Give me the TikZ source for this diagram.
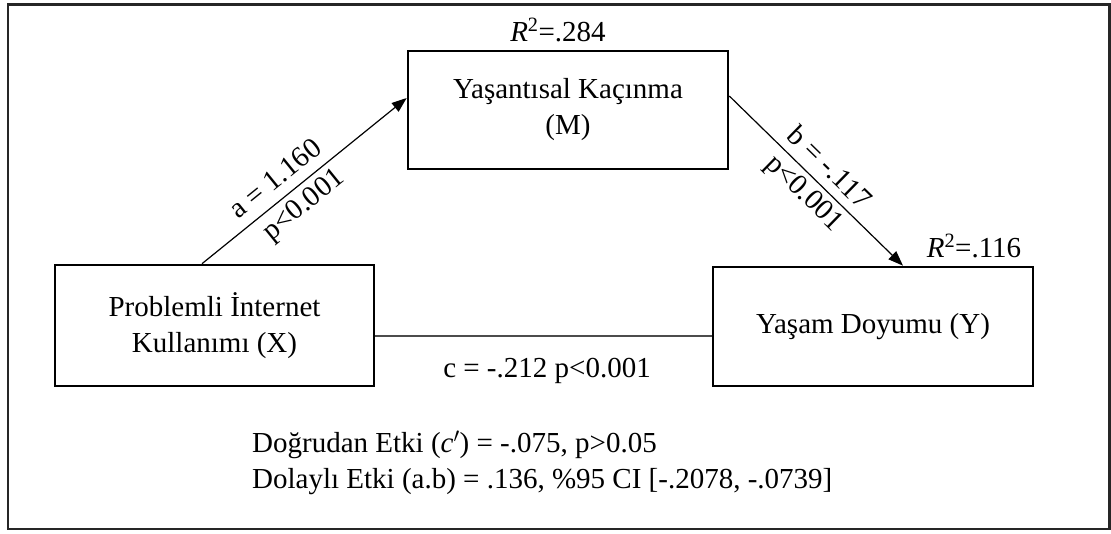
\documentclass[tikz,border=0pt]{standalone}
\usepackage{fontspec}
\setmainfont{Liberation Serif}
\usetikzlibrary{arrows.meta}
\begin{document}
\begin{tikzpicture}[x=1pt,y=-1pt,
  txt/.style={font=\fontsize{29}{36}\selectfont, inner sep=0pt},
  box/.style={draw=black, line width=2.6pt, inner sep=0pt, align=center,
              font=\fontsize{29}{36}\selectfont},
  arr/.style={draw=black, line width=1.2pt, -{Triangle[length=15pt,width=11pt]}},
  cline/.style={draw=black!70, line width=1.8pt},
  frame/.style={draw=black!85, line width=2.6pt},
  lab/.style={font=\fontsize{29}{36}\selectfont, sloped, inner sep=0pt}]
\useasboundingbox (0,0) rectangle (1111,533);
\draw[frame] (8,4.5) rectangle (1109.5,529);

\node[box, minimum width=319pt, minimum height=121pt] (X) at (214.5,325.5)
  {Problemli İnternet\\Kullanımı (X)};
\node[box, minimum width=320pt, minimum height=118pt] (M) at (568,110)
  {Yaşantısal Kaçınma\\(M)};
\node[box, minimum width=320pt, minimum height=119pt] (Y) at (873,326.5)
  {Yaşam Doyumu (Y)};

\draw[arr] ([xshift=-12.5pt]X.north) -- ([yshift=12pt]M.west)
  node[lab, pos=0.42, above=10pt] (la) {a = 1.160}
  node[lab, pos=0.44, below=6pt] (pa) {p<0.001};
\draw[arr] ([yshift=14pt]M.east) -- ([xshift=30pt]Y.north)
  node[lab, pos=0.5, above=9pt] (lb) {b = -.117}
  node[lab, pos=0.5, below=5pt] (pb) {p<0.001};
\draw[cline] ([yshift=-10.5pt]X.east) -- ([yshift=-10.5pt]X.east -| Y.west);

\node[txt, anchor=base] (r1) at (558,41) {\textit{R}\textsuperscript{2}=.284};
\node[txt, anchor=base] (r2) at (974,257) {\textit{R}\textsuperscript{2}=.116};
\node[txt, anchor=base] (c) at (547,377) {c = -.212 p<0.001};
\node[txt, anchor=base west] (d1) at (252,452) {Doğrudan Etki (\textit{c}$'$) = -.075, p>0.05};
\node[txt, anchor=base west] (d2) at (252,488) {Dolaylı Etki (a.b) = .136, \%95 CI [-.2078, -.0739]};
\end{tikzpicture}
\end{document}
